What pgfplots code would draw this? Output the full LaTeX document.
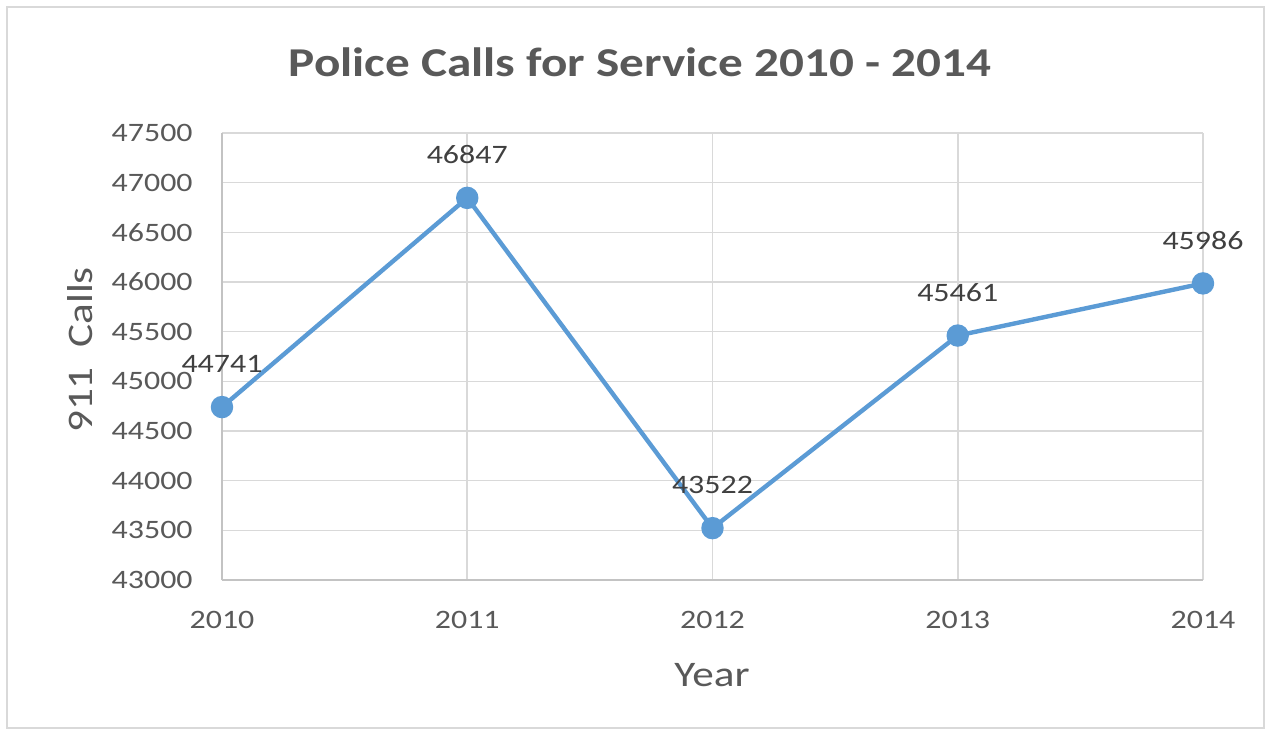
\documentclass[border=0pt]{standalone}
\usepackage{fontspec}
\setmainfont[FakeStretch=1.2]{Carlito}
\usepackage{pgfplots}
\usetikzlibrary{calc}
\pgfplotsset{compat=1.18}
\definecolor{lineblue}{HTML}{5B9BD5}
\definecolor{txtgray}{HTML}{595959}
\definecolor{lblgray}{HTML}{404040}
\definecolor{gridgray}{HTML}{D9D9D9}
\begin{document}
\begin{tikzpicture}
\begin{axis}[
  scale only axis,
  width=490.5pt, height=223.5pt,
  xmin=2010, xmax=2014,
  ymin=43000, ymax=47500,
  xtick={2010,2011,2012,2013,2014},
  ytick={43000,43500,...,47500},
  scaled y ticks=false,
  scaled x ticks=false,
  /pgf/number format/1000 sep={},
  /pgf/number format/assume math mode=true,
  yticklabel={\pgfmathprintnumber[fixed,precision=0,1000 sep={}]{\tick}},
  grid=major,
  major grid style={gridgray, line width=0.8pt},
  axis line style={gridgray!90!black, line width=0.8pt},
  axis x line*=bottom,
  axis y line*=left,
  major tick length=0pt,
  tick style={draw=none},
  tick label style={font=\fontsize{13.3}{16}\selectfont, text=txtgray, inner sep=0pt},
  yticklabel style={anchor=east, xshift=-14.5pt},
  xticklabel style={anchor=north, yshift=-15.5pt},
  clip=false,
  nodes near coords,
  every node near coord/.append style={font=\fontsize{13.3}{16}\selectfont, text=lblgray, anchor=south, inner sep=0pt, yshift=16pt},
]
\addplot[color=lineblue, line width=2.2pt, mark=*, mark size=4.5pt, mark options={fill=lineblue, draw=lineblue}]
  coordinates {(2010,44741) (2011,46847) (2012,43522) (2013,45461) (2014,45986)};
\coordinate (O) at (rel axis cs:0,0);
\end{axis}
\node[font=\bfseries\fontsize{20.5}{24}\selectfont, text=txtgray] at ($(O)+(209pt,259pt)$) {Police Calls for Service 2010 - 2014};
\node[font=\fontsize{18}{21}\selectfont, text=txtgray] at ($(O)+(245pt,-47.5pt)$) {Year};
\node[font=\fontsize{18}{21}\selectfont, text=txtgray, rotate=90] at ($(O)+(-71pt,115pt)$) {911~ Calls};
\draw[gridgray, line width=1pt] ($(O)+(-107.5pt,-74pt)$) rectangle ($(O)+(521pt,286.5pt)$);
\pgfresetboundingbox
\path ($(O)+(-111pt,-77.5pt)$) rectangle ($(O)+(524.5pt,290pt)$);
\end{tikzpicture}
\end{document}
